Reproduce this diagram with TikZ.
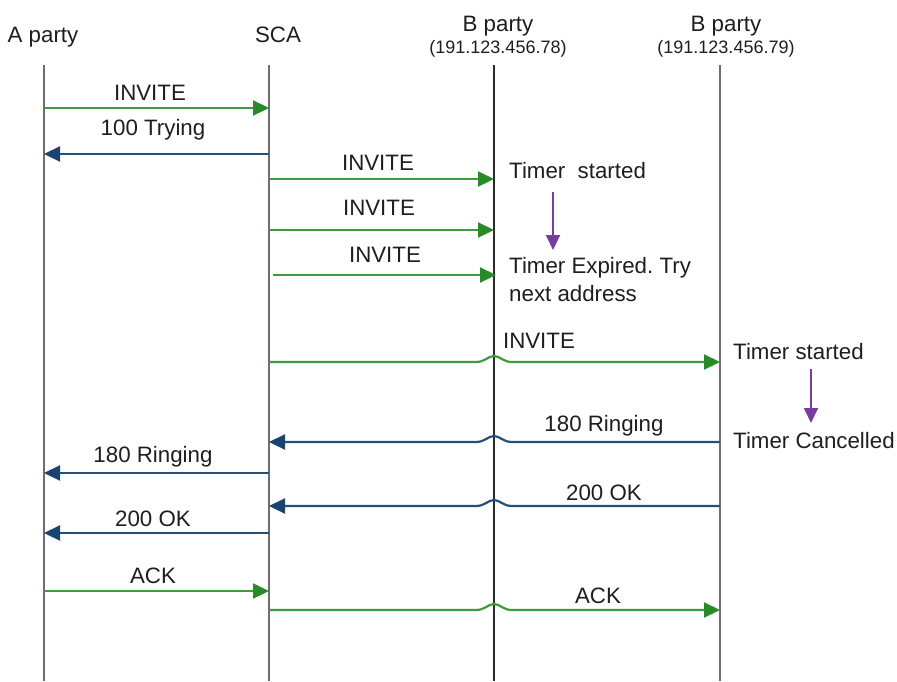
\documentclass[tikz,border=0pt]{standalone}
\usepackage{fontspec}
\setmainfont{Liberation Sans}
\usetikzlibrary{arrows.meta,calc}
\definecolor{msggreen}{HTML}{3F9A3F}
\definecolor{msggreenhead}{HTML}{2A8A2A}
\definecolor{msgblue}{HTML}{23507A}
\definecolor{msgbluehead}{HTML}{1B4270}
\definecolor{lifegray}{HTML}{6E6E6E}
\definecolor{lifedark}{HTML}{2A2A2A}
\definecolor{timerpurple}{HTML}{7A3A9E}
\definecolor{txt}{HTML}{1E1E1E}
\frenchspacing
\begin{document}
\begin{tikzpicture}[x=1pt,y=-1pt,
  lbl/.style={font=\fontsize{22.3}{26}\selectfont, text=txt, inner sep=0pt, anchor=base},
  lblleft/.style={lbl, anchor=base west},
  ip/.style={font=\fontsize{18}{21}\selectfont, text=txt, inner sep=0pt, anchor=base},
  life/.style={draw=lifegray, line width=2pt},
  lifeb/.style={draw=lifedark, line width=1.5pt},
  fwd/.style={draw=msggreen, line width=2.2pt, -{Triangle[length=16pt,width=15pt,color=msggreenhead]}},
  bwd/.style={draw=msgblue, line width=2.2pt, -{Triangle[length=16pt,width=15pt,color=msgbluehead]}},
  timer/.style={draw=timerpurple, line width=1.8pt, -{Triangle[length=15pt,width=14pt]}}]
\useasboundingbox (0,0) rectangle (897,681);

% lifeline ends
\coordinate (A) at (44,65);   \coordinate (Ab) at (44,681);
\coordinate (S) at (269,65);  \coordinate (Sb) at (269,681);
\coordinate (B1) at (494,65); \coordinate (B1b) at (494,681);
\coordinate (B2) at (720,65); \coordinate (B2b) at (720,681);

% headers
\node[lbl] (hA) at (43,42) {A party};
\node[lbl] (hS) at (278,42) {SCA};
\node[lbl] (hB1) at (498,31) {B party};
\node[ip]  (ip1) at (498,53) {(191.123.456.78)};
\node[lbl] (hB2) at (726,31) {B party};
\node[ip]  (ip2) at (726,53) {(191.123.456.79)};

% lifelines
\draw[life] (A) -- (Ab);
\draw[life] (S) -- (Sb);
\draw[lifeb] (B1) -- (B1b);
\draw[life] (B2) -- (B2b);

% messages A <-> SCA, SCA -> B1
\draw[fwd] (A|-0,108) -- (S|-0,108);
\node[lbl] (m1) at (150,100) {INVITE};
\draw[bwd] (S|-0,154) -- (A|-0,154);
\node[lbl] (m2) at (153,135) {100 Trying};
\draw[fwd] (S|-0,179) -- (B1|-0,179);
\node[lbl] (m3) at (378,170) {INVITE};
\draw[fwd] (S|-0,230) -- (B1|-0,230);
\node[lbl] (m4) at (379,215) {INVITE};
\draw[fwd] ($(S|-0,275)+(4,0)$) -- ($(B1|-0,275)+(2,0)$);
\node[lbl] (m5) at (385,262) {INVITE};

% timer on B1
\node[lblleft] (t1) at (509,178) {Timer\ \ started};
\coordinate (t1a) at (553,192);
\coordinate (t1b) at (553,250);
\draw[timer] (t1a) -- (t1b);
\node[lblleft] (t1x) at (509,273) {Timer Expired. Try};
\node[lblleft] (t1y) at (509,301) {next address};

% INVITE SCA -> B2 with jump over B1
\draw[fwd] (S|-0,362) -- ($(B1|-0,362)+(-18,0)$)
  .. controls +(9,0) and +(-6,0) .. (B1|-0,356)
  .. controls +(6,0) and +(-9,0) .. ++(18,6) -- (B2|-0,362);
\node[lbl] (m6) at (539,348) {INVITE};

% timer on B2
\node[lblleft] (t2) at (733,359) {Timer started};
\coordinate (t2a) at (811,369);
\coordinate (t2b) at (811,423);
\draw[timer] (t2a) -- (t2b);
\node[lblleft] (t2x) at (733,448) {Timer Cancelled};

% 180 Ringing B2 -> SCA
\draw[bwd] (B2|-0,442) -- ($(B1|-0,442)+(18,0)$)
  .. controls +(-9,0) and +(6,0) .. (B1|-0,436)
  .. controls +(-6,0) and +(9,0) .. ++(-18,6) -- (S|-0,442);
\node[lbl] (m7) at (604,431) {180 Ringing};

\draw[bwd] (S|-0,473) -- (A|-0,473);
\node[lbl] (m8) at (153,462) {180 Ringing};

% 200 OK B2 -> SCA
\draw[bwd] (B2|-0,506) -- ($(B1|-0,506)+(18,0)$)
  .. controls +(-9,0) and +(6,0) .. (B1|-0,500)
  .. controls +(-6,0) and +(9,0) .. ++(-18,6) -- (S|-0,506);
\node[lbl] (m9) at (604,500) {200 OK};

\draw[bwd] (S|-0,533) -- (A|-0,533);
\node[lbl] (m10) at (153,526) {200 OK};

% ACK
\draw[fwd] (A|-0,591) -- (S|-0,591);
\node[lbl] (m11) at (153,583) {ACK};
\draw[fwd] (S|-0,610) -- ($(B1|-0,610)+(-18,0)$)
  .. controls +(9,0) and +(-6,0) .. (B1|-0,604)
  .. controls +(6,0) and +(-9,0) .. ++(18,6) -- (B2|-0,610);
\node[lbl] (m12) at (598,603) {ACK};
\end{tikzpicture}
\end{document}
